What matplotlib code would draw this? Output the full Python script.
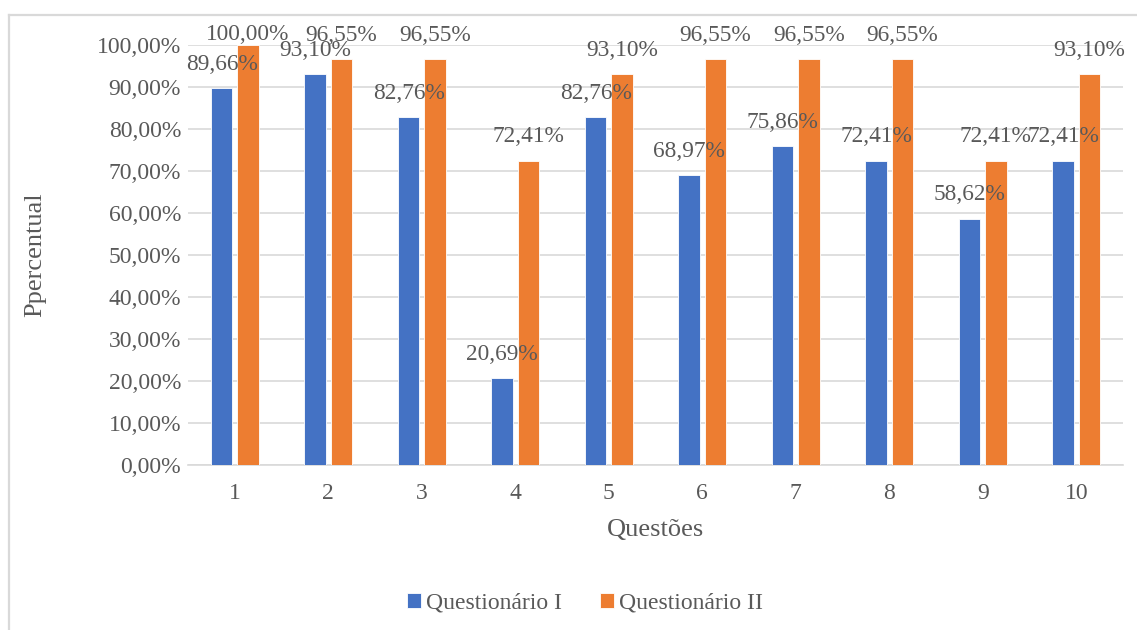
import matplotlib.pyplot as plt
import numpy as np
from matplotlib.lines import Line2D
from matplotlib.ticker import FuncFormatter

questions = ["1", "2", "3", "4", "5", "6", "7", "8", "9", "10"]
quest_1 = [89.66, 93.10, 82.76, 20.69, 82.76, 68.97, 75.86, 72.41, 58.62, 72.41]
quest_2 = [100.00, 96.55, 96.55, 72.41, 93.10, 96.55, 96.55, 96.55, 72.41, 93.10]
series_names = ["Questionário I", "Questionário II"]

BLUE = "#4472C4"
ORANGE = "#ED7D31"
TEXT = "#595959"
GRID = "#D9D9D9"

plt.rcParams["font.family"] = ["Liberation Serif", "DejaVu Serif"]

W, H = 1137, 630
fig = plt.figure(figsize=(W / 100, H / 100), dpi=100)
ax = fig.add_axes([188 / W, 1 - 465 / H, 935 / W, 420 / H])


def fmt_pct(v):
    return f"{v:.2f}%".replace(".", ",")


x = np.arange(len(questions))
width = 0.23
off = 0.14
bars1 = ax.bar(x - off, quest_1, width, color=BLUE, edgecolor="white",
               linewidth=0.6, label=series_names[0], zorder=3)
bars2 = ax.bar(x + off, quest_2, width, color=ORANGE, edgecolor="white",
               linewidth=0.6, label=series_names[1], zorder=3)

# data labels above each bar (Excel keeps them inside the chart area)
for bars, vals in ((bars1, quest_1), (bars2, quest_2)):
    for b, v in zip(bars, vals):
        ax.text(b.get_x() + b.get_width() / 2, min(v + 5.7, 102.4), fmt_pct(v),
                ha="center", va="center", fontsize=16.8, color=TEXT,
                clip_on=False, zorder=4)

ax.set_xlim(-0.5, len(questions) - 0.5)
ax.set_ylim(0, 100)
ax.set_yticks(np.arange(0, 101, 10))
ax.yaxis.set_major_formatter(FuncFormatter(lambda v, p: fmt_pct(v)))
ax.set_xticks(x)
ax.set_xticklabels(questions)

ax.grid(axis="y", color=GRID, linewidth=1.2, zorder=0)
for side in ("top", "right", "left"):
    ax.spines[side].set_visible(False)
ax.spines["bottom"].set_color(GRID)
ax.spines["bottom"].set_linewidth(1.2)
ax.tick_params(length=0, labelsize=17, colors=TEXT)
ax.tick_params(axis="x", pad=13)
ax.tick_params(axis="y", pad=5)

ax.set_ylabel("Ppercentual", fontsize=19, color=TEXT)
ax.yaxis.label.set_va("center")
ax.yaxis.set_label_coords((35 - 188) / 935, 0.5)
ax.set_xlabel("Questões", fontsize=19, color=TEXT)
ax.xaxis.label.set_va("center")
ax.xaxis.set_label_coords(0.5, (465 - 530) / 420)

fig.legend(handles=[bars1, bars2], labels=series_names, loc="center",
           bbox_to_anchor=(585 / W, 1 - 603 / H), ncol=2, frameon=False,
           fontsize=17, labelcolor=TEXT, handlelength=0.6, handleheight=0.6,
           handletextpad=0.2, columnspacing=1.6)

# chart area border (only top and left edges are visible in the crop)
fig.add_artist(Line2D([9 / W, 1], [1 - 15 / H, 1 - 15 / H], color=GRID, linewidth=1.6))
fig.add_artist(Line2D([9 / W, 9 / W], [0, 1 - 15 / H], color=GRID, linewidth=1.6))

fig.savefig("out.png", dpi=100)
